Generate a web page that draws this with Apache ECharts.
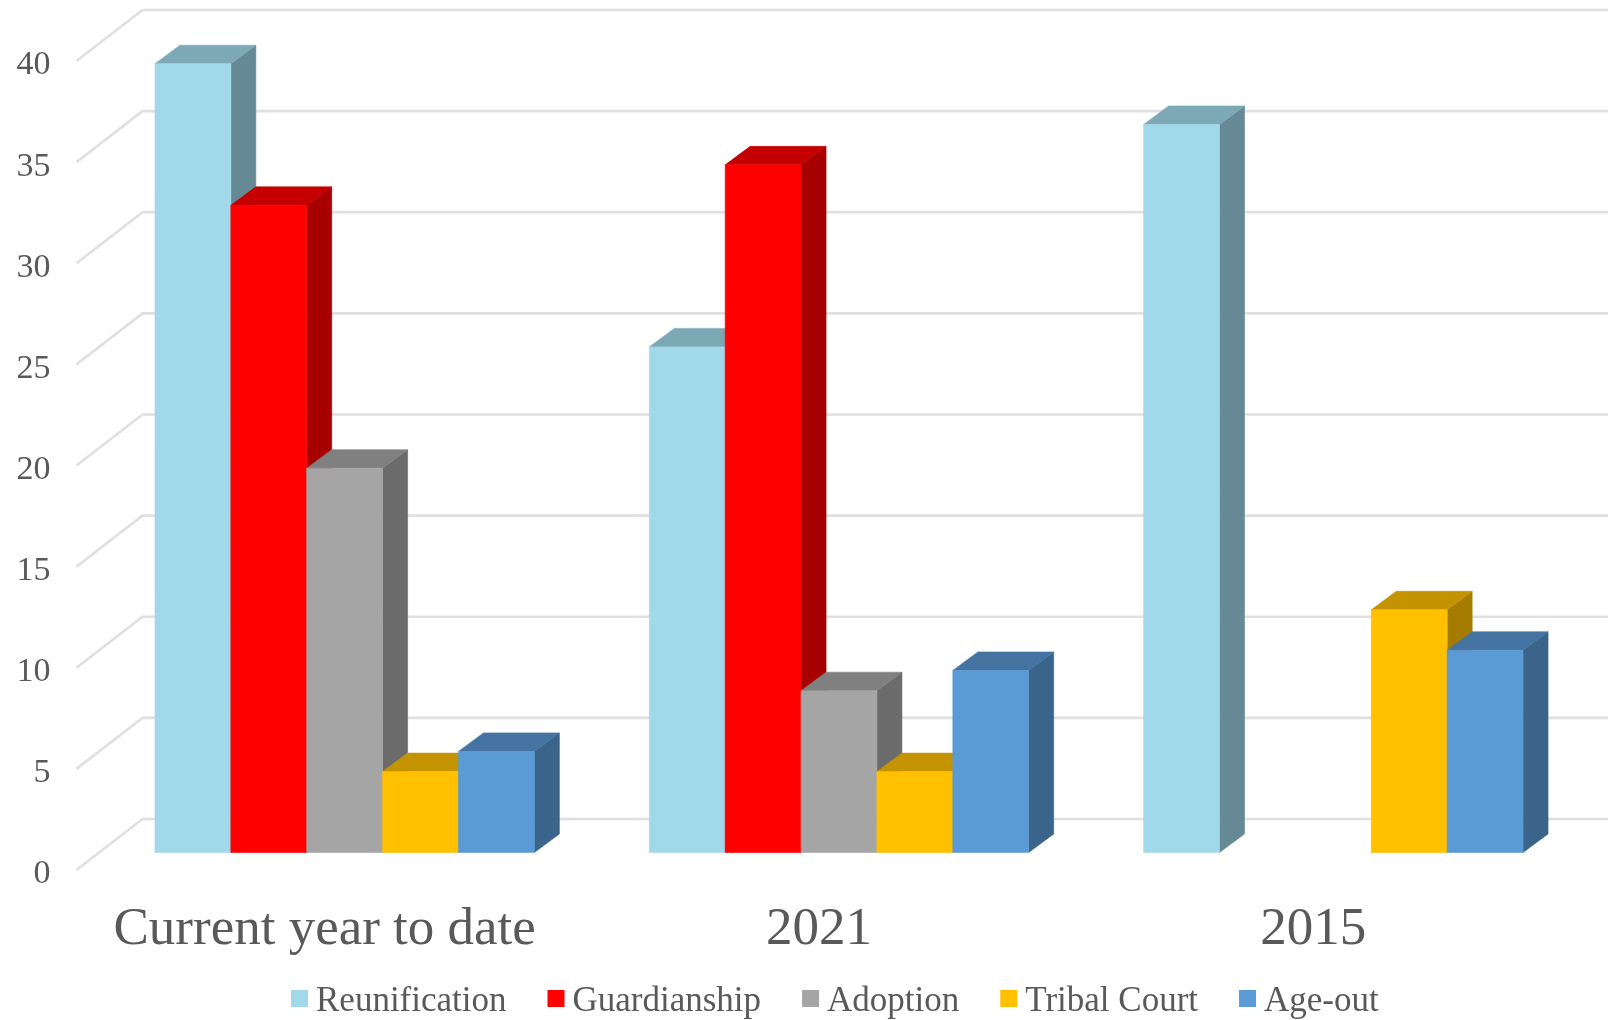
<!DOCTYPE html>
<html><head><meta charset="utf-8">
<style>html,body{margin:0;padding:0;background:#fff}#c{width:1608px;height:1020px}</style>
<script src="https://cdn.jsdelivr.net/npm/echarts@6/dist/echarts.min.js"></script>
</head><body><div id="c"></div>
<script>
const categories = ['Current year to date', '2021', '2015'];
const reunification = [39, 25, 36];
const guardianship = [32, 34, null];
const adoption = [19, 8, null];
const tribalCourt = [4, 4, 12];
const ageOut = [5, 9, 10];
const wallTicks = [0, 5, 10, 15, 20, 25, 30, 35, 40];

const seriesDefs = [
  ['Reunification', reunification, '#A2D9EA', '#7DA8B5', '#668A95'],
  ['Guardianship', guardianship, '#FF0000', '#C40000', '#A60000'],
  ['Adoption', adoption, '#A5A5A5', '#808080', '#6B6B6B'],
  ['Tribal Court', tribalCourt, '#FFC000', '#C49300', '#A67C00'],
  ['Age-out', ageOut, '#5B9BD5', '#4574A3', '#3A6489']
];

const FONT = '"Liberation Serif", serif';
const TEXT = '#595959';
const LABEL_DROP = 4.5;
const DX = 25, DY = 18.5, FLOOR = 17.5 + LABEL_DROP, BAR_FRAC = 0.1535;

function barRender(si, front, top, side) {
  return function (params, api) {
    const v = api.value(1);
    if (v == null || isNaN(v)) return;
    const c = api.value(0);
    const band = api.size([1, 0])[0];
    const w = band * BAR_FRAC;
    const pt = api.coord([c, v]), pb = api.coord([c, 0]);
    const x0 = pt[0] + (si - 2.5) * w, x1 = x0 + w;
    const yt = pt[1] - FLOOR, yb = pb[1] - FLOOR;
    return {
      type: 'group',
      children: [
        { type: 'polygon', shape: { points: [[x1, yt], [x1 + DX, yt - DY], [x1 + DX, yb - DY], [x1, yb]] }, style: { fill: side, stroke: side, lineWidth: 0.6 } },
        { type: 'polygon', shape: { points: [[x0, yt], [x0 + DX, yt - DY], [x1 + DX, yt - DY], [x1, yt]] }, style: { fill: top, stroke: top, lineWidth: 0.6 } },
        { type: 'rect', shape: { x: x0, y: yt, width: w, height: yb - yt }, style: { fill: front, stroke: front, lineWidth: 0.6 } }
      ]
    };
  };
}

const wallSeries = {
  type: 'custom',
  name: 'wall',
  silent: true,
  z: 1,
  clip: false,
  data: wallTicks.map(v => [0, v]),
  encode: { x: 0, y: 1 },
  renderItem(params, api) {
    const band = api.size([1, 0])[0];
    const p = api.coord([0, api.value(1)]);
    const left = p[0] - band / 2;
    const y = p[1] - LABEL_DROP;
    return {
      type: 'polyline',
      shape: { points: [[left - 21, y], [left + 45, y - 51], [1608, y - 51]] },
      style: { stroke: '#E0E0E0', lineWidth: 2.6, fill: null }
    };
  }
};

const option = {
  animation: false,
  backgroundColor: '#fff',
  grid: { left: 97.5, right: 27.5, top: 61 + LABEL_DROP, bottom: 150 - LABEL_DROP },
  legend: {
    data: seriesDefs.map(d => d[0]),
    left: 286,
    top: 979,
    icon: 'rect',
    itemWidth: 17,
    itemHeight: 17,
    itemGap: 41,
    formatter: n => '{a|' + n + '}',
    textStyle: {
      fontFamily: FONT, fontSize: 35, color: TEXT,
      rich: { a: { fontFamily: FONT, fontSize: 35, color: TEXT, padding: [6, 0, 0, 3] } }
    }
  },
  xAxis: {
    type: 'category',
    data: categories,
    axisLine: { show: false },
    axisTick: { show: false },
    axisLabel: { fontFamily: FONT, fontSize: 53, color: TEXT, margin: 29.5, padding: [0, 40, 0, 0], interval: 0 }
  },
  yAxis: {
    type: 'value',
    min: 0,
    max: 40,
    interval: 5,
    splitLine: { show: false },
    axisLine: { show: false },
    axisTick: { show: false },
    axisLabel: { fontFamily: FONT, fontSize: 34, color: TEXT, margin: 47 }
  },
  series: [wallSeries].concat(seriesDefs.map((d, si) => ({
    type: 'custom',
    name: d[0],
    z: 2 + si,
    clip: false,
    itemStyle: { color: d[2] },
    data: d[1].map((v, i) => [i, v]),
    encode: { x: 0, y: 1 },
    renderItem: barRender(si, d[2], d[3], d[4])
  })))
};
echarts.init(document.getElementById('c'), null, { renderer: 'canvas' }).setOption(option);
</script></body></html>
